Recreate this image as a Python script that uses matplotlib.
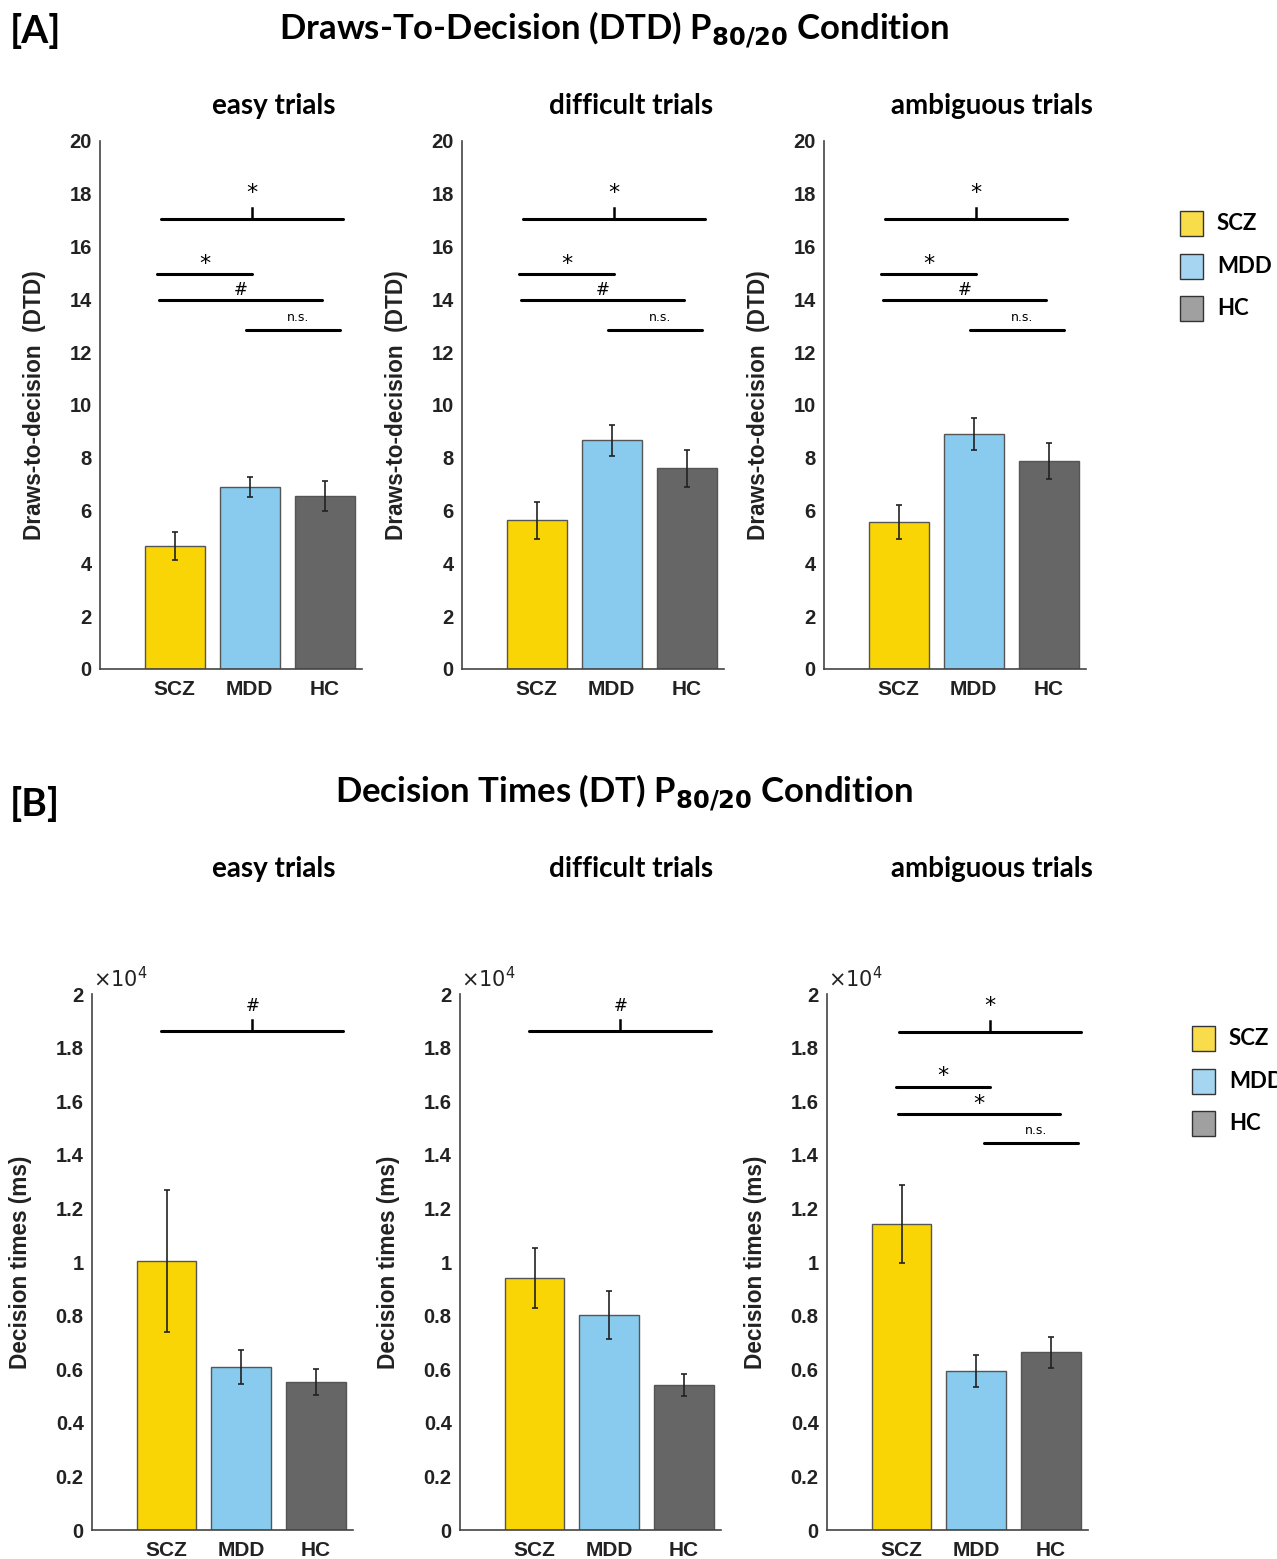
import matplotlib
matplotlib.use("Agg")
import matplotlib.pyplot as plt
from matplotlib.patches import Rectangle

plt.rcParams['mathtext.fontset'] = 'dejavusans'

groups = ["SCZ", "MDD", "HC"]
conditions = ["easy trials", "difficult trials", "ambiguous trials"]

# Panel A: draws-to-decision
dtd_means = [[4.66, 6.89, 6.55], [5.64, 8.67, 7.61], [5.57, 8.90, 7.88]]
dtd_err = [[0.53, 0.38, 0.57], [0.70, 0.59, 0.70], [0.66, 0.59, 0.68]]

# Panel B: decision times (x 1e4 ms)
dt_means = [[1.004, 0.608, 0.552], [0.940, 0.802, 0.541], [1.142, 0.593, 0.664]]
dt_err = [[0.265, 0.065, 0.047], [0.112, 0.090, 0.040], [0.144, 0.060, 0.058]]

bar_colors = ["#FAD505", "#89CBEE", "#666666"]
legend_colors = ["#F9DC4A", "#A5D5F0", "#A0A0A0"]

# significance annotations: (y, x0, x1, label, braced)
dtd_sig = [
    (17.05, 0.81, 3.25, "*", True),
    (14.96, 0.76, 2.03, "*", False),
    (13.98, 0.79, 2.97, "#", False),
    (12.84, 1.95, 3.21, "n.s.", False),
]
dt_sig = [
    [(1.862, 0.93, 3.37, "#", True)],
    [(1.862, 0.93, 3.37, "#", True)],
    [
        (1.858, 0.97, 3.41, "*", True),
        (1.653, 0.92, 2.19, "*", False),
        (1.552, 0.95, 3.13, "*", False),
        (1.444, 2.10, 3.37, "n.s.", False),
    ],
]

W, H = 1277, 1559
fig = plt.figure(figsize=(W / 100, H / 100), dpi=100)

SANS = ["Liberation Sans", "DejaVu Sans"]
TITLEF = ["Lato", "DejaVu Sans"]


def fx(px):
    return px / W


def fy(py):
    return 1 - py / H


def draw_sig(ax, sig, ymax):
    for (y, x0, x1, lab, braced) in sig:
        ax.plot([x0, x1], [y, y], color="black", lw=2.2, solid_capstyle="round", clip_on=False)
        xm = (x0 + x1) / 2
        if braced:
            ax.plot([xm, xm], [y, y + ymax * 0.021], color="black", lw=1.8, clip_on=False)
            ax.text(xm, y + ymax * 0.030, lab, ha="center", va="bottom",
                    fontsize=16 if lab == "*" else 12, family=["DejaVu Sans"])
        else:
            if lab == "n.s.":
                ax.text(xm + 0.05 * (x1 - x0), y + ymax * 0.012, lab, ha="center", va="bottom",
                        fontsize=9, family=["DejaVu Sans"])
            else:
                ax.text(xm, y + ymax * 0.001, lab, ha="center", va="bottom",
                        fontsize=16 if lab == "*" else 12, family=["DejaVu Sans"])


def style_axes(ax, ymax, ticks, ticklabels):
    ax.set_xlim(0, 3.5)
    ax.set_ylim(0, ymax)
    for s in ["top", "right"]:
        ax.spines[s].set_visible(False)
    for s in ["left", "bottom"]:
        ax.spines[s].set_color("#444444")
        ax.spines[s].set_linewidth(1.2)
    ax.set_yticks(ticks)
    ax.set_yticklabels(ticklabels, fontsize=14.5, fontweight="bold", family=SANS, color="#222222")
    ax.set_xticks([1, 2, 3])
    ax.set_xticklabels(groups, fontsize=15, fontweight="bold", family=SANS, color="#222222")
    ax.tick_params(axis="both", length=0, pad=6)
    ax.tick_params(axis="x", pad=8)


# ---------- Panel A ----------
a_lefts = [100, 462, 824]
title_x = [274, 631, 992]
for i in range(3):
    ax = fig.add_axes([fx(a_lefts[i]), fy(669), fx(262), 528 / H])
    ax.bar([1, 2, 3], dtd_means[i], width=0.8, color=bar_colors, edgecolor="#555555", linewidth=1.0)
    ax.errorbar([1, 2, 3], dtd_means[i], yerr=dtd_err[i], fmt="none", ecolor="#222222",
                elinewidth=1.2, capsize=2, capthick=1.2)
    style_axes(ax, 20, list(range(0, 21, 2)), [str(v) for v in range(0, 21, 2)])
    ax.set_ylabel("Draws-to-decision  (DTD)", fontsize=16.3, fontweight="bold", family=SANS,
                  color="#222222", labelpad=17)
    draw_sig(ax, dtd_sig, 20)
    fig.text(fx(title_x[i]), fy(106), conditions[i], ha="center", va="center",
             fontsize=20, fontweight="bold", family=TITLEF)

# ---------- Panel B ----------
b_lefts = [92, 460, 827]
bt = [0, 0.2, 0.4, 0.6, 0.8, 1.0, 1.2, 1.4, 1.6, 1.8, 2.0]
btl = ["0", "0.2", "0.4", "0.6", "0.8", "1", "1.2", "1.4", "1.6", "1.8", "2"]
for i in range(3):
    ax = fig.add_axes([fx(b_lefts[i]), fy(1530), fx(261), 536 / H])
    ax.bar([1, 2, 3], dt_means[i], width=0.8, color=bar_colors, edgecolor="#555555", linewidth=1.0)
    ax.errorbar([1, 2, 3], dt_means[i], yerr=dt_err[i], fmt="none", ecolor="#222222",
                elinewidth=1.2, capsize=2, capthick=1.2)
    style_axes(ax, 2.0, bt, btl)
    ax.set_ylabel("Decision times (ms)", fontsize=16.3, fontweight="bold", family=SANS,
                  color="#222222", labelpad=17)
    draw_sig(ax, dt_sig[i], 2.0)
    ax.text(0.005, 1.005, r"$\times10^4$", transform=ax.transAxes, ha="left", va="bottom",
            fontsize=15, family=SANS, color="#222222")
    fig.text(fx(title_x[i]), fy(869), conditions[i], ha="center", va="center",
             fontsize=20, fontweight="bold", family=TITLEF)

# main titles
fig.text(fx(10), fy(31), "[A]", ha="left", va="center", fontsize=28, fontweight="bold", family=TITLEF)
fig.text(fx(614), fy(30), r"Draws-To-Decision (DTD) P$_{\mathbf{80/20}}$ Condition", ha="center",
         va="center", fontsize=25, fontweight="bold", family=TITLEF)
fig.text(fx(10), fy(804), "[B]", ha="left", va="center", fontsize=28, fontweight="bold", family=TITLEF)
fig.text(fx(624), fy(793), r"Decision Times (DT) P$_{\mathbf{80/20}}$ Condition", ha="center",
         va="center", fontsize=25, fontweight="bold", family=TITLEF)


# legends
def legend(x_sq, y_tops, x_txt):
    for j in range(3):
        fig.patches.append(Rectangle((fx(x_sq), fy(y_tops[j] + 25)), 23 / W, 25 / H,
                                     transform=fig.transFigure, facecolor=legend_colors[j],
                                     edgecolor="#333333", linewidth=1.0))
        fig.text(fx(x_txt), fy(y_tops[j] + 12.5), groups[j], ha="left", va="center",
                 fontsize=16, fontweight="bold", family=TITLEF)


legend(1180, [211, 254, 296], 1217)
legend(1192, [1026, 1069, 1111], 1229)

fig.savefig("out.png", dpi=100)
